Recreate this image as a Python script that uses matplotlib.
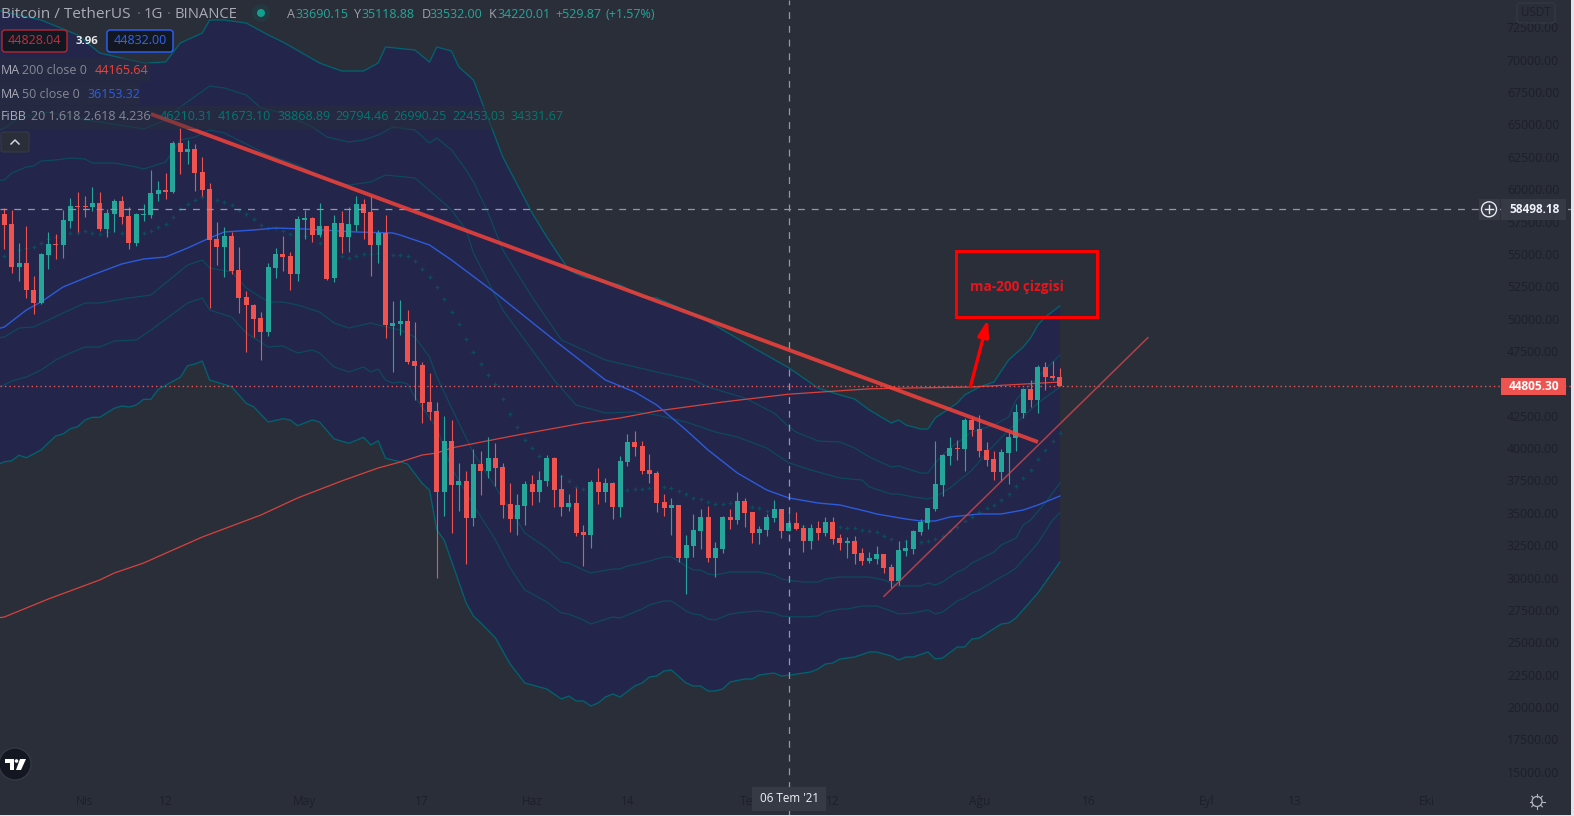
import numpy as np
import matplotlib
matplotlib.use('Agg')
import matplotlib.pyplot as plt
from matplotlib.patches import Rectangle, Circle, FancyBboxPatch, Polygon
from matplotlib.transforms import Affine2D

W, H = 1574, 816
BG = '#2a2e39'
NAVY = '#23264a'
GREEN = '#26a69a'
RED = '#ef5350'
DIM = '#1d2029'

# daily candles, day 0 = 1 Nisan 2021
first_day = -11
opens = [58090,57310,53990,54300,52240,51210,54920,55770,55690,57540,
         58710,58710,58630,58940,56920,58090,59090,57930,55840,58010,
         58010,59630,59940,59780,63580,62880,63110,61330,60020,56150,
         55530,56380,53760,51670,51060,50060,48970,53920,55000,54840,
         53450,57620,57780,56460,57160,53140,57390,56300,57240,58860,
         58240,55690,56610,49430,49590,49820,46730,46420,43560,42870,
         36610,40550,37150,37460,34610,38770,38230,39230,38540,35690,
         34530,35530,37230,36610,37460,39230,36840,35460,35770,33530,
         33300,37380,36610,37300,35460,38930,40470,40160,38310,38080,
         35840,35380,35610,31510,32440,33600,34680,31510,32210,34680,
         34450,35920,35070,33450,33680,34610,35300,33600,34220,33830,
         32830,33830,33450,34300,33060,32670,32830,31900,31280,31430,
         31820,30820,29740,32060,32210,33520,34220,35300,37150,39390,
         40010,39930,42170,41480,39850,39160,38150,39620,40780,42710,
         44570,43720,46270,45580,45500]
highs = [58530,58400,55820,57160,53300,55070,56700,56540,58400,59290,
         59780,59470,60170,59780,58470,59240,59470,58630,58140,58860,
         61490,60630,61250,63730,64730,63810,63500,62490,60480,57470,
         57080,56690,55530,52140,51130,50510,54300,55460,56380,55150,
         57930,58400,57850,58940,57160,58010,58320,58630,59470,59240,
         59470,56850,58010,51370,51450,50670,49750,46650,45800,43560,
         42480,42180,38850,38230,39930,39780,40860,40400,38850,37300,
         36460,37460,37920,38230,39470,39310,37920,36460,36920,34060,
         37530,38470,37690,37380,39390,41090,41320,40550,39540,38230,
         36460,36150,35610,33300,34910,35300,35530,32760,34760,35300,
         36610,36150,35070,33990,34910,36000,35300,35140,35070,34060,
         34140,34380,34680,34680,33370,33140,33220,32290,31980,32440,
         31820,31050,32830,32910,33680,34530,35380,40550,39540,40860,
         40630,42330,42400,42560,40470,39780,39930,41240,43410,44650,
         45270,46420,46650,46730,46190]
lows = [55380,53530,52910,51600,50360,51130,53840,54610,54680,57000,
        56690,57860,58320,56770,56300,56690,57310,55380,55610,57540,
        57780,59090,59240,59710,61170,61950,59860,59470,50820,54140,
        53220,53450,50430,47420,48580,46810,48660,53140,53680,52220,
        52910,56150,55920,56300,52990,52830,55070,55150,56770,56150,
        53300,54300,48500,45880,48740,46500,43720,41940,42170,29970,
        34760,33440,35140,31050,33990,36380,37700,37070,34610,33530,
        33300,34060,35610,35840,37070,35460,34760,35140,33220,30900,
        32290,35690,35840,34530,34680,38610,39390,38000,37300,35070,
        34760,33300,31200,28730,31590,32210,31200,30050,31900,33760,
        34140,33910,32680,32590,33220,34300,33060,33600,33680,31980,
        32210,32900,33220,32590,32130,31510,31050,30970,31120,31050,
        30350,29190,29430,31670,31820,33300,33760,35140,36300,38700,
        39080,38230,40940,39310,38610,37530,37460,37230,39780,42330,
        43180,42710,44490,45270,44805]
closes = [57240,53990,54300,52240,51210,55000,55770,55690,57620,58710,
          58630,58630,58940,56920,58160,59090,57850,55840,58090,58090,
          59710,59940,59780,63580,62880,63110,61250,59940,56070,55530,
          56380,53680,51600,51060,49980,48970,53990,55000,54760,53450,
          57700,57780,56460,57160,53060,57390,56300,57310,58860,58160,
          55690,56610,49510,49670,49820,46650,46340,43490,42790,36610,
          40550,37150,37460,34610,38770,38230,39230,38470,35610,34530,
          35610,37230,36610,37530,39230,36770,35460,35770,33450,33300,
          37380,36610,37300,35460,39000,40470,40080,38230,38000,35770,
          35380,35610,31510,32510,33680,34680,31510,32290,34680,34450,
          35920,34990,33450,33760,34680,35300,33600,34220,33760,32830,
          33830,33450,34300,32990,32670,32830,31820,31280,31510,31820,
          30740,29740,32130,32290,33600,34300,35380,37230,39470,40010,
          39930,42170,41400,39780,39080,38150,39700,40860,42790,44570,
          43720,46270,45500,45420,44805]

# fib bollinger bands, read where they bend
u3_days = [-12,-11,-6,-1,1,2,5,8,11,13,16,17,19,22,25,27,32,35,38,40,41,45,47,48,50,51,53,57,61,63,66,68,73,76,78,84,91,96,100,103,105,107,110,111,112,114,115,116,118,119,120,122,124,126,128,129,130,131,133]
u3 = [73845,73690,73072,71913,70986,70523,70137,69750,69828,71295,72068,73072,73072,72840,71913,71373,69750,69132,69132,69750,70986,70755,69828,70986,70677,69441,68437,62489,58163,56309,53760,53219,52601,51674,51596,50128,47810,46210,44644,44103,43794,42945,41941,42172,41786,41477,41477,42327,43099,43485,44103,44721,45107,46806,47811,48506,49510,50128,50978]
u2_days = [-12,-11,-9,-5,0,3,8,11,13,17,19,22,24,27,31,33,36,38,40,42,45,47,48,50,52,53,55,57,61,65,71,78,83,85,90,94,96,97,100,103,105,107,110,111,114,115,116,118,121,124,126,127,130,133]
u2 = [64497,64729,65501,65965,65347,65115,64652,65347,66351,67973,67819,67278,66274,65888,64806,64034,63647,63802,64188,64806,64574,63570,63956,63030,61485,60557,58163,55305,51674,48352,46807,45880,45262,44721,43872,42713,41673,41245,40549,40472,40009,39314,38541,38618,38077,38077,38850,39998,41245,41786,42404,43717,45494,47194]
u1_days = [-12,-11,-10,-8,-7,-6,-4,-2,0,1,4,7,8,11,13,15,17,19,25,29,33,36,39,41,45,48,50,52,53,57,61,64,67,71,75,78,82,86,89,93,96,99,103,106,107,110,111,113,115,116,118,121,123,126,130,133]
u1 = [60672,60712,61253,61716,61793,62180,62257,62412,62334,62025,62025,61716,61562,62103,63802,64034,64575,64343,62643,61871,60712,60325,60557,61098,60867,59399,58395,56850,55073,50669,47580,45262,43331,42713,42790,42559,42018,41245,40859,40009,38869,38309,37691,37537,36996,36455,36455,36224,36069,36224,36918,38309,39623,41399,43485,44721]
l1_days = [-12,-11,-9,-7,-3,0,2,6,9,11,14,16,17,20,22,25,27,29,32,34,36,39,40,43,45,47,48,51,53,56,60,63,65,66,68,69,72,73,74,76,79,80,82,83,84,85,86,88,90,92,94,95,96,98,100,101,103,107,109,111,114,115,116,117,119,120,121,124,125,127,128,129,131,133]
l1 = [48506,48584,49279,49356,50437,51210,51210,51596,51829,52756,54145,54532,53914,53605,52369,51288,51288,51056,50514,49665,49279,49665,49511,49124,48584,47039,45494,41940,39623,36996,33443,32284,31203,31125,30584,30353,30662,30662,30894,31125,31589,31589,30894,30584,30584,30275,30198,30430,30430,30430,30198,29889,29794,29657,29657,29889,30044,30044,29811,29348,29348,29580,29426,29657,30430,30662,31125,31975,32516,33056,34061,34448,35760,37306]
l2_days = [-12,-11,-10,-8,-6,-4,-2,0,2,4,7,9,14,16,17,20,22,25,27,29,31,32,34,36,38,39,40,41,42,43,44,45,48,50,53,56,58,60,63,65,66,68,69,72,73,76,77,79,80,82,83,84,85,86,88,90,92,94,95,96,98,100,101,103,104,106,108,110,111,113,115,116,117,119,120,121,122,125,126,127,130,132,133]
l2 = [44721,44876,45185,45494,46034,46807,47347,47811,47811,48275,48352,49124,51210,51596,50669,50128,48892,47811,47888,47347,47580,47347,46266,45880,46266,45880,46111,45262,45030,45107,44953,43949,41554,38464,35605,32902,30739,29039,28113,27263,27186,26723,26413,26954,26877,27572,27881,28190,28190,27417,27186,27108,26799,26723,27186,27340,27417,27263,27031,26990,26954,27031,27340,27572,27572,27803,27803,27417,27186,27263,27495,27186,27340,28190,28421,28808,29039,30044,30353,30739,32670,34447,34988]
l3_days = [-12,-11,-10,-9,-8,-6,-4,-3,-2,-1,0,1,2,4,5,6,7,8,9,10,13,14,15,16,17,20,22,23,25,27,28,29,31,32,34,36,38,39,40,41,43,44,46,47,48,49,51,52,53,54,56,58,60,63,65,66,67,68,69,70,71,72,73,75,76,77,78,79,80,82,83,84,85,86,87,88,90,91,92,94,95,96,99,100,101,102,103,105,107,108,110,111,112,113,115,116,117,119,120,121,122,125,126,127,130,133]
l3 = [38696,38950,39028,39445,39259,39855,40936,41091,41500,41654,42172,42380,42380,43076,43253,43176,43331,43770,43770,44543,45470,46366,46498,46730,45262,44744,43462,43200,42017,42272,42172,41731,42172,42017,40704,40372,40835,40241,40573,39213,38950,38773,37282,36764,33674,32901,29658,28035,27031,26491,25332,23323,21855,21392,20620,20851,20465,20465,20078,20310,20774,21005,20774,21624,21855,22319,22396,22782,22860,21855,21624,21624,21238,21238,21392,21933,22164,22164,22473,22628,22396,22453,22705,22937,23323,23400,23708,23863,24251,24251,23941,23632,23863,23863,24251,23708,23786,24637,24637,25254,25332,26413,26491,26877,28808,31203]

# basis dots, only the ones not hidden by a candle
basis_days = [-11,-9,-8,-7,-6,-5,-4,-2,-1,0,1,2,3,5,8,9,10,11,12,13,14,15,16,18,19,20,21,22,23,24,25,26,27,28,30,32,35,36,37,38,39,40,42,43,44,45,46,47,48,49,50,51,52,53,54,55,56,57,58,59,60,61,62,65,66,67,68,74,75,76,77,79,80,81,82,83,84,85,86,87,88,91,92,93,98,103,104,105,106,107,108,109,110,112,114,115,116,117,118,119,120,121,122,123,124,125,126,127,128,129,130,131,132,133]
basis = [54841,55305,55435,55560,55868,56130,56286,56593,56641,56749,56593,56517,56718,56641,56593,56749,57059,57289,57877,58449,58834,59144,59375,59144,58989,58757,58371,58062,57676,57213,56981,56981,56749,56517,56363,55822,54818,54663,54818,54973,54973,55050,54895,54895,54818,54431,53814,53195,52423,51496,50514,49588,48430,47425,46498,45648,44930,43771,42612,41607,40603,39985,39367,37823,37436,36973,36818,36741,36818,36818,36895,36973,36895,36663,36432,36123,36046,35814,35659,35659,35737,35428,35350,35118,33959,33881,33804,33804,33697,33573,33496,33187,32955,32801,32723,32801,32955,33187,33573,33881,34345,34654,35041,35350,35582,35969,36432,37049,37668,38287,39137,39831,40522,41184]

ma200_days = [-12,-11,-5,2,4,8,12,16,20,24,29,35,40,43,46,48,50,52,59,68,73,78,87,96,107,110,121,133]
ma200 = [26877,26954,28345,29812,30353,31125,32130,33133,33983,34833,36147,37459,38464,38927,39468,39622,40008,40240,41013,41940,42326,42866,43562,44166,44580,44620,44721,45107]
ma50_days = [-12,-11,-8,-6,-3,1,5,8,11,14,17,19,23,26,30,37,42,43,47,50,56,64,71,75,78,82,85,89,93,96,100,103,107,108,112,114,116,118,122,125,128,130,133]
ma50 = [49202,49356,50669,51288,52446,53373,54223,54609,54764,55459,56232,56695,56850,57004,56927,56695,56618,56463,55691,54532,51983,48352,45262,44335,43331,41399,39855,38078,36765,36153,35760,35606,35064,34910,34525,34370,34370,34679,34911,34911,35219,35606,36301]

# drawings on the chart (day, price)
trend_days = [9, 130]
trend_prices = [65810, 40473]
support_days = [109, 145]
support_prices = [28553, 48530]
arrow_days = [120.8, 123.2]
arrow_prices = [44744, 49951]

last_price = 44805.30
cross_price = 58498.18
cross_day = 96

price_ticks = list(range(15000, 75000, 2500))
month_days = [0, 11, 30, 46, 61, 74, 91, 102, 122, 137, 153, 165, 183]
month_labels = ['Nis', '12', 'May', '17', 'Haz', '14', 'Tem', '12', 'Ağu', '16', 'Eyl', '13', 'Eki']

plt.rcParams['font.family'] = ['Open Sans', 'DejaVu Sans']

fig = plt.figure(figsize=(W / 100, H / 100), dpi=100, facecolor=BG)
ax = fig.add_axes([0, 0, 1, 1], facecolor=BG)
ax.set_xlim(-85 / 7.33, (W - 85) / 7.33)
ax.set_ylim(74617 - 77.25 * H, 74617)
for s in ax.spines.values():
    s.set_visible(False)

# pixel transform for the tradingview chrome
px = Affine2D().scale(1 / W, -1 / H).translate(0, 1) + fig.transFigure

days = np.arange(first_day, first_day + len(opens))
o, h, l, c = map(np.array, (opens, highs, lows, closes))
cols = np.where(c >= o, GREEN, RED)

# band fill
ax.fill(np.r_[u3_days, l3_days[::-1]], np.r_[u3, l3[::-1]], color=NAVY, lw=0, zorder=1)

for d, v in ((u2_days, u2), (u1_days, u1), (l1_days, l1), (l2_days, l2)):
    ax.plot(d, v, color='#0c4a60', lw=0.85, zorder=2)
for d, v in ((u3_days, u3), (l3_days, l3)):
    ax.plot(d, v, color='#00636f', lw=0.95, zorder=2)
ax.plot(basis_days, basis, ls='none', marker='+', ms=3.0, mew=0.9, color='#0c4a5e', zorder=2)

ax.plot(ma200_days, ma200, color='#d8423c', lw=0.9, zorder=3)
ax.plot(ma50_days, ma50, color='#2b5bdc', lw=1.0, zorder=3)

# price line and crosshair
ax.axhline(last_price, color=RED, lw=1.0, ls=(0, (1, 2.2)), zorder=3)
ax.axhline(cross_price, color='#9598a1', lw=0.9, ls=(0, (5.5, 5.5)), zorder=6)
ax.axvline(cross_day, color='#9598a1', lw=0.9, ls=(0, (5.5, 5.5)), zorder=6)

# candles
ax.vlines(days, l, h, colors=cols, lw=0.8, zorder=4)
ax.bar(days, np.abs(c - o), bottom=np.minimum(o, c), width=5 / 7.33, color=cols, lw=0, zorder=4)

ax.plot(trend_days, trend_prices, color='#f6423a', alpha=0.85, lw=2.8, solid_capstyle='butt', zorder=7)
ax.plot(support_days, support_prices, color='#c8444c', alpha=0.85, lw=1.1, zorder=7)

ax.annotate('', xy=(arrow_days[1], arrow_prices[1]), xytext=(arrow_days[0], arrow_prices[0]),
            arrowprops=dict(arrowstyle='-|>,head_width=0.32,head_length=1.0', color='#ff0000', lw=2.4,
                            shrinkA=0, shrinkB=0), zorder=8)

# axis labels
ax.yaxis.tick_right()
ax.set_yticks(price_ticks)
ax.set_yticklabels(['%.2f' % p for p in price_ticks], color=DIM, fontsize=8.8)
for t in ax.get_yticklabels():
    t.set_ha('right')
ax.tick_params(axis='y', length=0, pad=-10.8)
ax.set_xticks(month_days)
ax.set_xticklabels(month_labels, color=DIM, fontsize=8.6)
ax.tick_params(axis='x', length=0, pad=-15.3)


def txt(x, y, s, color, size=8.8, weight='normal', ha='left', z=12):
    fig.text(x / W, 1 - y / H, s, color=color, fontsize=size, fontweight=weight, ha=ha, va='center', zorder=z)


def box(x0, y0, x1, y1, face, edge='none', lw=0, alpha=None, z=10):
    fig.add_artist(Rectangle((x0, y0), x1 - x0, y1 - y0, transform=px, facecolor=face, edgecolor=edge,
                             lw=lw, alpha=alpha, zorder=z))


# legend rows
box(0, 58, 150, 81, BG, alpha=0.45, z=5)
box(0, 82, 140, 105, BG, alpha=0.45, z=5)
box(0, 106, 566, 129, BG, alpha=0.45, z=5)

LABEL = '#9ea1ab'
txt(1, 14, 'Bitcoin / TetherUS', '#a9acb6', size=11.1)
txt(137, 14, '·', '#6a6d78', size=10.6)
txt(144, 14, '1G', '#a9acb6', size=10.8)
txt(167, 14, '·', '#6a6d78', size=10.6)
txt(175, 14, 'BINANCE', '#a9acb6', size=10.6)
fig.add_artist(Circle((261, 13), 9, transform=px, facecolor='#1f3f45', edgecolor='none', alpha=0.6, zorder=11))
fig.add_artist(Circle((261, 13), 4, transform=px, facecolor='#12a08f', edgecolor='none', zorder=12))

for x, s in ((287, 'A'), (354, 'Y'), (421.5, 'D'), (489, 'K')):
    txt(x, 14, s, LABEL, size=9)
for x, s in ((295, '33690.15'), (362, '35118.88'), (429, '33532.00'), (497, '34220.01'),
             (555.5, '+529.87'), (605, '(+1.57%)')):
    txt(x, 14, s, GREEN, size=9)

fig.add_artist(FancyBboxPatch((2, 30), 65, 22, boxstyle='round,pad=0,rounding_size=3', transform=px,
                              facecolor='#131722', edgecolor='#b22833', lw=1.0, zorder=10))
txt(34.5, 41, '44828.04', '#c4303a', size=9, ha='center')
txt(87, 41, '3.96', '#e8e9ec', size=8.2, weight='bold', ha='center')
fig.add_artist(FancyBboxPatch((107, 30), 66, 22, boxstyle='round,pad=0,rounding_size=3', transform=px,
                              facecolor='#131722', edgecolor='#2962ff', lw=1.0, zorder=10))
txt(140, 41, '44832.00', '#2f66f5', size=9, ha='center')

txt(1, 70, 'MA', '#a9acb6', size=9)
txt(22, 70, '200 close 0', '#868993', size=9)
txt(95, 70, '44165.64', '#f0433a', size=9)
txt(1, 94, 'MA', '#a9acb6', size=9)
txt(22, 94, '50 close 0', '#868993', size=9)
txt(88, 94, '36153.32', '#2b5fe6', size=9)
txt(1, 117, 'FiBB', '#a9acb6', size=9)
txt(31, 117, '20 1.618 2.618 4.236', '#868993', size=9)
for x, s in zip((160, 218, 277, 335, 393.5, 452, 510.5),
                ('46210.31', '41673.10', '38868.89', '29794.46', '26990.25', '22453.03', '34331.67')):
    txt(x, 117, s, '#00796f', size=9)

# collapse button
fig.add_artist(FancyBboxPatch((1, 132), 28, 20, boxstyle='round,pad=0,rounding_size=2', transform=px,
                              facecolor=BG, edgecolor='#363a45', lw=0.8, zorder=10))
fig.add_artist(plt.Line2D([11, 15, 19], [144, 140, 144], transform=px, color='#d1d4dc', lw=1.1, zorder=11))

# annotation box
box(956, 251, 1096.5, 316.5, 'none', edge='#ff0000', lw=2.2, z=9)
txt(1017, 287.5, 'ma-200 çizgisi', '#e8141c', size=9.8, weight='bold', ha='center')

# price scale labels
box(1479, 199, 1500, 220, '#363a45')
box(1501, 199, 1566, 220, '#363a45')
txt(1534.5, 209.5, '58498.18', '#f0f3fa', size=8.6, weight='bold', ha='center')
fig.add_artist(Circle((1489, 209.3), 7.5, transform=px, facecolor='none', edgecolor='#e8e9ec', lw=1.0, zorder=11))
fig.add_artist(plt.Line2D([1485, 1493], [209.3, 209.3], transform=px, color='#e8e9ec', lw=1.0, zorder=11))
fig.add_artist(plt.Line2D([1489, 1489], [205.3, 213.3], transform=px, color='#e8e9ec', lw=1.0, zorder=11))
box(1501, 378, 1566, 395, RED)
txt(1534.5, 386.5, '44805.30', '#ffffff', size=8.6, weight='bold', ha='center')
fig.add_artist(FancyBboxPatch((1517, 3), 38, 20, boxstyle='round,pad=0,rounding_size=3', transform=px,
                              facecolor=BG, edgecolor='#363a45', lw=0.8, zorder=10))
txt(1536, 13, 'USDT', DIM, size=8.4, ha='center')

# crosshair date
box(752, 787, 825.5, 811, '#363a45')
txt(789, 798.5, "06 Tem '21", '#f0f3fa', size=8.4, ha='center')

# tradingview logo
fig.add_artist(Circle((15, 764), 16, transform=px, facecolor='#131722', edgecolor='#363a45', lw=0.9, zorder=10))
fig.add_artist(Polygon([(5, 759), (14, 759), (14, 770), (10, 770), (10, 763), (5, 763)], transform=px,
                       facecolor='white', edgecolor='none', zorder=11))
fig.add_artist(Circle((16.5, 761), 1.8, transform=px, facecolor='white', edgecolor='none', zorder=11))
fig.add_artist(Polygon([(20, 759), (26, 759), (21, 770), (16, 770)], transform=px,
                       facecolor='white', edgecolor='none', zorder=11))

# settings gear
fig.add_artist(Circle((1537, 801.5), 5, transform=px, facecolor='none', edgecolor='#b2b5be', lw=0.9, zorder=11))
for a in np.arange(0, 360, 45):
    ca, sa = np.cos(np.radians(a)), np.sin(np.radians(a))
    fig.add_artist(plt.Line2D([1537 + 5 * ca, 1537 + 7.5 * ca], [801.5 + 5 * sa, 801.5 + 7.5 * sa],
                              transform=px, color='#b2b5be', lw=0.8, zorder=11))

# light page edge
box(1571, 0, W, H, '#e0e3eb', z=13)
box(0, 814.5, W, H, '#e0e3eb', z=13)

fig.savefig('out.png', dpi=100, facecolor=BG)
